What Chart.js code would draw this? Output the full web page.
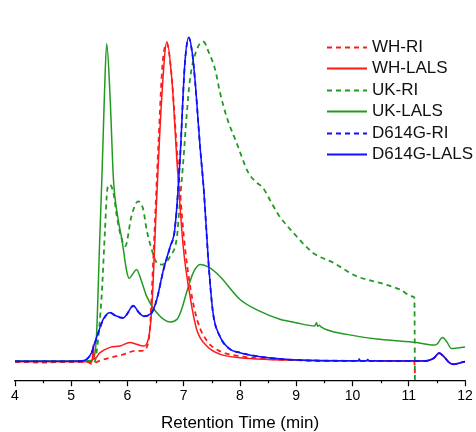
<!DOCTYPE html>
<html lang="en">
<head>
    <meta charset="UTF-8">
    <title>Retention Time</title>
    <script src="https://cdn.jsdelivr.net/npm/chart.js"></script>
    <style>
        html, body { margin: 0; padding: 0; background: #fff; }
        #wrap { width: 476px; height: 432px; }
    </style>
</head>
<body>
    <div id="wrap"><canvas id="myChart" width="476" height="432"></canvas></div>

    <script>
        // Retention time (min) and signal for each trace
        const whRiT = [4.0, 5.0, 5.3, 5.36, 5.5, 5.69, 5.93, 6.13, 6.28, 6.34, 6.4, 6.46, 6.55, 6.62, 6.7, 6.78, 6.88, 7.0, 7.12, 7.25, 7.42, 7.65, 8.0, 8.5, 9.0, 10.0, 11.0, 11.1, 11.11];
        const whRiV = [0.2, 0.2, 0.1, -0.4, 0.5, 1.4, 2.3, 3.3, 3.4, 4.2, 10, 30, 62, 84, 90.5, 82, 60, 36, 21, 11.5, 6, 3.2, 1.8, 1.0, 0.7, 0.5, 0.4, 0.3, -3];

        const whLalsT = [4.0, 5.0, 5.3, 5.37, 5.39, 5.41, 5.51, 5.69, 5.87, 6.04, 6.16, 6.28, 6.37, 6.43, 6.52, 6.61, 6.7, 6.79, 6.88, 6.99, 7.11, 7.23, 7.41, 7.64, 8.0, 8.5, 9.0, 10.0, 11.0, 11.35, 11.45, 11.54, 11.63, 11.72, 11.8, 11.9, 12.0];
        const whLalsV = [0.2, 0.2, 0.2, 0.3, 5.0, 1.0, 2.8, 4.3, 4.7, 5.7, 5.2, 4.7, 6.6, 15.1, 47, 75.5, 91, 80, 57, 33, 19, 9.4, 4.7, 2.4, 1.4, 0.9, 0.7, 0.5, 0.5, 0.6, 1.3, 2.6, 1.6, 0, -0.5, -0.2, 0.2];

        const ukRiT = [4.0, 4.5, 5.0, 5.3, 5.4, 5.45, 5.54, 5.6, 5.64, 5.68, 5.75, 5.81, 5.88, 5.96, 6.07, 6.19, 6.28, 6.34, 6.43, 6.52, 6.61, 6.76, 6.88, 6.93, 6.99, 7.05, 7.11, 7.23, 7.35, 7.44, 7.56, 7.64, 7.76, 7.94, 8.15, 8.3, 8.41, 8.53, 8.68, 8.95, 9.3, 9.66, 10.07, 10.49, 10.84, 11.08, 11.1, 11.11];
        const ukRiV = [0.3, 0.0, 0.3, 0.3, -0.3, 2.9, 18.9, 37.7, 49, 50.5, 48.1, 41.5, 36, 33, 41.5, 45.7, 43.4, 37.7, 32.1, 28.3, 27.8, 30.2, 35.8, 45.3, 56.7, 69.8, 80.2, 88.7, 91, 88.2, 83, 76.9, 69.8, 62.3, 53.8, 51, 49.5, 46.2, 42, 36.8, 31.1, 28.3, 24.5, 22.6, 20.75, 18.7, 18.3, -6];

        const ukLalsT = [4.0, 5.0, 5.3, 5.39, 5.45, 5.5, 5.55, 5.59, 5.63, 5.69, 5.75, 5.82, 5.9, 5.99, 6.03, 6.1, 6.16, 6.25, 6.34, 6.52, 6.76, 6.88, 6.96, 7.05, 7.17, 7.29, 7.45, 7.64, 8.0, 8.35, 8.71, 9.0, 9.33, 9.36, 9.38, 9.41, 9.44, 9.9, 10.49, 11.14, 11.45, 11.5, 11.6, 11.68, 11.76, 11.9, 12.0];
        const ukLalsV = [0.45, 0.45, 0.5, 0.9, 8, 32, 55, 76, 90.4, 75.5, 52, 42, 34.9, 25.6, 23.9, 25.3, 26.4, 23, 18.85, 14.15, 11.5, 12.26, 15, 19.9, 25.5, 27.8, 27, 24.5, 17.9, 14.6, 12.3, 11.3, 10.4, 11.3, 10.3, 10.6, 10.1, 8.0, 6.6, 5.66, 5.0, 5.2, 7.1, 5.8, 3.96, 4.2, 4.4];

        const dRiT = [4.0, 5.0, 5.2, 5.27, 5.36, 5.42, 5.48, 5.57, 5.69, 5.8, 5.93, 6.02, 6.1, 6.19, 6.28, 6.43, 6.52, 6.64, 6.76, 6.84, 6.93, 7.02, 7.09, 7.15, 7.2, 7.29, 7.36, 7.44, 7.52, 7.64, 7.82, 8.0, 8.3, 8.6, 9.0, 9.5, 10.0, 10.8, 11.3, 11.45, 11.54, 11.63, 11.72, 11.8, 11.9, 12.0];
        const dRiV = [0.35, 0.35, 0.45, 0.85, 2.7, 5.6, 8.4, 12.2, 14.1, 13.1, 12.6, 14.4, 16.1, 14.4, 13.1, 14.1, 17.8, 26.3, 32.9, 37.6, 56.6, 84.8, 92.1, 87.8, 80.1, 61.2, 48.1, 28.3, 14.1, 7.5, 3.8, 2.8, 1.8, 1.2, 0.7, 0.5, 0.5, 0.45, 0.45, 1.3, 2.7, 1.6, 0, -0.5, -0.1, 0.3];

        const dLalsT = [4.0, 5.0, 5.2, 5.27, 5.36, 5.42, 5.48, 5.57, 5.69, 5.8, 5.93, 6.02, 6.1, 6.19, 6.28, 6.43, 6.52, 6.64, 6.76, 6.84, 6.93, 7.02, 7.09, 7.15, 7.2, 7.29, 7.36, 7.44, 7.52, 7.64, 7.82, 8.0, 8.3, 8.6, 9.0, 9.5, 10.0, 10.1, 10.12, 10.14, 10.25, 10.27, 10.3, 10.8, 11.3, 11.45, 11.54, 11.63, 11.72, 11.8, 11.9, 12.0];
        const dLalsV = [0.4, 0.4, 0.5, 0.9, 2.8, 5.7, 8.5, 12.3, 14.2, 13.2, 12.7, 14.5, 16.2, 14.5, 13.2, 14.15, 17.9, 26.4, 33, 37.7, 56.7, 85, 92.3, 88, 80.2, 61.3, 48.2, 28.4, 14.15, 7.5, 3.8, 2.8, 1.8, 1.2, 0.7, 0.5, 0.5, 0.5, 1.0, 0.5, 0.5, 0.9, 0.5, 0.45, 0.45, 1.3, 2.8, 1.6, 0, -0.5, -0.1, 0.3];

        const labels = ['WH-RI', 'WH-LALS', 'UK-RI', 'UK-LALS', 'D614G-RI', 'D614G-LALS'];
        const xTicks = [4, 5, 6, 7, 8, 9, 10, 11, 12];
        const xMinorTicks = [4.5, 5.5, 6.5, 7.5, 8.5, 9.5, 10.5, 11.5];

        const RED = '#ff1a1a';
        const GREEN = '#229a22';
        const BLUE = '#1010ff';

        function pts(t, v) {
            return t.map((x, i) => ({ x: x, y: v[i] }));
        }

        function line(label, t, v, color, dashed, order) {
            return {
                label: label,
                data: pts(t, v),
                borderColor: color,
                borderWidth: dashed ? 1.8 : 1.5,
                borderDash: dashed ? [5, 4] : [],
                pointRadius: 0,
                fill: false,
                cubicInterpolationMode: 'monotone',
                order: order,
            };
        }

        // малые деления оси X
        const minorTicks = {
            id: 'minorTicks',
            afterDraw(chart) {
                const sc = chart.scales.x;
                const ctx = chart.ctx;
                const y = sc.top;
                ctx.save();
                ctx.strokeStyle = '#000';
                ctx.lineWidth = 1.2;
                xMinorTicks.forEach(v => {
                    const x = Math.round(sc.getPixelForValue(v)) + 0.5;
                    ctx.beginPath();
                    ctx.moveTo(x, y);
                    ctx.lineTo(x, y + 3);
                    ctx.stroke();
                });
                ctx.restore();
            }
        };

        // легенда в правом верхнем углу
        const legendPlugin = {
            id: 'cornerLegend',
            afterDatasetsDraw(chart) {
                const ctx = chart.ctx;
                const x0 = 327, x1 = 367, y0 = 47, step = 21.4;
                ctx.save();
                ctx.font = '17px "Liberation Sans", Arial, sans-serif';
                ctx.textBaseline = 'middle';
                ctx.fillStyle = '#111';
                labels.forEach((name, i) => {
                    const ds = chart.data.datasets.find(d => d.label === name);
                    const y = Math.round(y0 + i * step) + 0.5;
                    ctx.strokeStyle = ds.borderColor;
                    ctx.lineWidth = 1.8;
                    ctx.setLineDash(ds.borderDash);
                    ctx.beginPath();
                    ctx.moveTo(x0, y);
                    ctx.lineTo(x1, y);
                    ctx.stroke();
                    ctx.setLineDash([]);
                    ctx.fillText(name, 372, y);
                });
                ctx.restore();
            }
        };

        const ctx = document.getElementById('myChart').getContext('2d');
        const chart = new Chart(ctx, {
            type: 'line',
            data: {
                datasets: [
                    line(labels[0], whRiT, whRiV, RED, true, 4),
                    line(labels[1], whLalsT, whLalsV, RED, false, 3),
                    line(labels[2], ukRiT, ukRiV, GREEN, true, 5),
                    line(labels[3], ukLalsT, ukLalsV, GREEN, false, 6),
                    line(labels[4], dRiT, dRiV, BLUE, true, 2),
                    line(labels[5], dLalsT, dLalsV, BLUE, false, 1),
                ],
            },
            options: {
                responsive: false,
                animation: false,
                layout: { padding: { left: 15, right: 11, top: 10, bottom: 0 } },
                plugins: {
                    legend: { display: false },
                    tooltip: { enabled: false },
                },
                scales: {
                    x: {
                        type: 'linear',
                        min: 4,
                        max: 12,
                        grid: {
                            drawOnChartArea: false,
                            drawTicks: true,
                            tickLength: 6,
                            tickColor: '#000',
                            tickWidth: 1.2,
                        },
                        border: { display: true, color: '#000', width: 1.2 },
                        afterBuildTicks: (axis) => {
                            axis.ticks = xTicks.map(t => ({ value: t }));
                        },
                        ticks: {
                            autoSkip: false,
                            maxRotation: 0,
                            padding: 2,
                            color: '#000',
                            font: { family: '"Liberation Sans", Arial, sans-serif', size: 14 },
                        },
                        title: {
                            display: true,
                            text: 'Retention Time (min)',
                            color: '#000',
                            padding: { top: 8, bottom: 0 },
                            font: { family: '"Liberation Sans", Arial, sans-serif', size: 17, lineHeight: 1.0 },
                        },
                    },
                    y: {
                        display: false,
                        min: -5,
                        max: 100,
                    },
                },
            },
            plugins: [legendPlugin, minorTicks],
        });
    </script>
</body>
</html>
